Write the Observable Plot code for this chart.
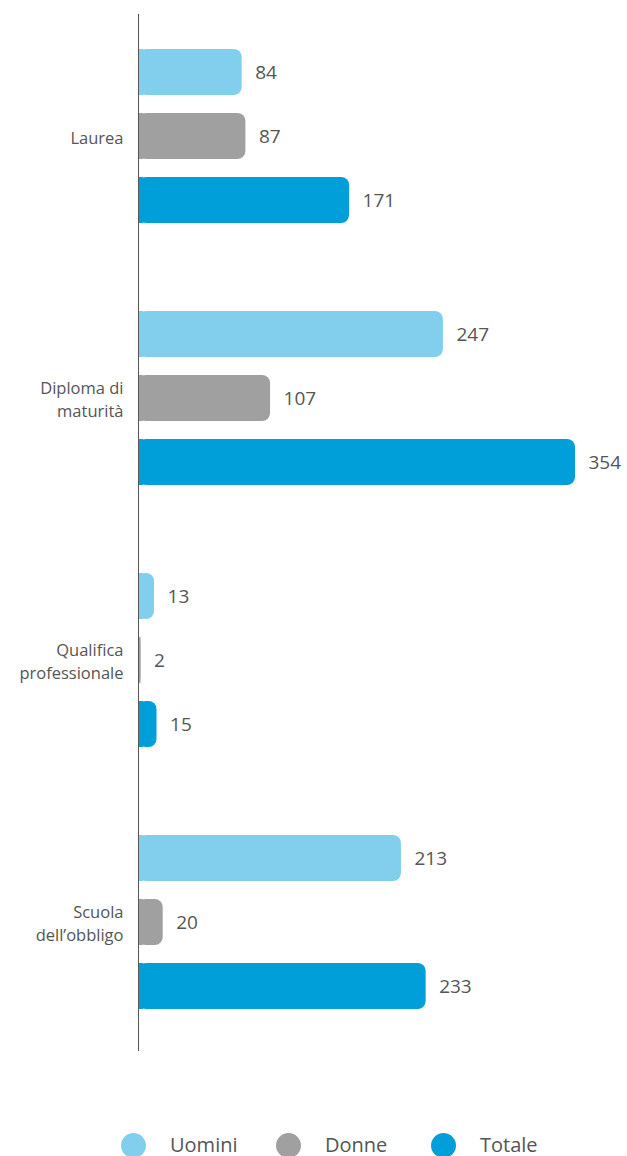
<!DOCTYPE html>
<html><head><meta charset="utf-8">
<script src="https://cdn.jsdelivr.net/npm/d3@7"></script>
<script src="https://cdn.jsdelivr.net/npm/@observablehq/plot@0.6"></script>
<style>
body{margin:0;background:#fff;font-family:"Open Sans",sans-serif;}
#chart svg{display:block}
#legend{display:flex;justify-content:flex-start;align-items:center;height:30px;margin-top:40px;font-size:20px;line-height:30px;color:#555;padding-left:121px}
#legend .item{display:flex;align-items:center;width:155px}
#legend .dot{width:25px;height:25px;border-radius:50%;margin-right:24px}
</style></head>
<body><div id="chart"></div><div id="legend"></div>
<script>
const categories = ["Laurea","Diploma di\nmaturità","Qualifica\nprofessionale","Scuola\ndell’obbligo"];
const series = ["Uomini","Donne","Totale"];
const colors = ["#82cfed","#a0a0a0","#009fd9"];
const uomini = [84,247,13,213];
const donne = [87,107,2,20];
const totale = [171,354,15,233];

const data = [];
categories.forEach((c,i)=>{
  data.push({cat:c, s:"Uomini", v:uomini[i]});
  data.push({cat:c, s:"Donne", v:donne[i]});
  data.push({cat:c, s:"Totale", v:totale[i]});
});

const chart = Plot.plot({
  width:627, height:1090,
  marginLeft:138, marginRight:52, marginTop:12, marginBottom:38,
  style:{fontFamily:"'Open Sans',sans-serif", color:"#555"},
  x:{domain:[0,354], axis:null},
  fy:{domain:categories, range:[3,1054], padding:0, label:null},
  y:{domain:series, paddingInner:0.287, paddingOuter:0.68, axis:null},
  color:{domain:series, range:colors},
  marks:[
    Plot.barX(data,{fy:"cat", y:"s", x:"v", fill:"s", rx:8}),
    Plot.barX(data,{fy:"cat", y:"s", x1:0, x2:d=>Math.min(d.v,4), fill:"s"}),
    Plot.text(data,{fy:"cat", y:"s", x:"v", text:d=>String(d.v), dx:13, textAnchor:"start", fontSize:19, fill:"#555"}),
    Plot.axisFy({anchor:"left", tickSize:0, tickPadding:15, fontSize:16.5, label:null, lineHeight:1.4, fill:"#555"}),
    Plot.ruleX(categories.slice(0,1),{fy:d=>d, x:0, insetTop:9, stroke:"#555", strokeWidth:1}),
    Plot.ruleX(categories.slice(1,3),{fy:d=>d, x:0, stroke:"#555", strokeWidth:1}),
    Plot.ruleX(categories.slice(3),{fy:d=>d, x:0, insetBottom:2, stroke:"#555", strokeWidth:1})
  ]
});
document.getElementById("chart").appendChild(chart);

const leg = document.getElementById("legend");
series.forEach((s,i)=>{
  const it=document.createElement("div");it.className="item";
  it.innerHTML=`<span class="dot" style="background:${colors[i]}"></span><span>${s}</span>`;
  leg.appendChild(it);
});
</script></body></html>
